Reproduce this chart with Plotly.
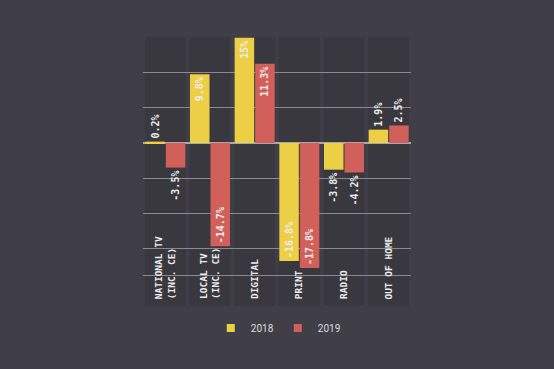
import plotly.graph_objects as go

categories = ["National TV (inc. CE)", "Local TV (inc. CE)", "Digital", "Print", "Radio", "Out of Home"]
category_labels = ["NATIONAL TV<br>(INC. CE)", "LOCAL TV<br>(INC. CE)", "DIGITAL", "PRINT", "RADIO", "OUT OF HOME"]
values_2018 = [0.2, 9.8, 15.0, -16.8, -3.8, 1.9]
values_2019 = [-3.5, -14.7, 11.3, -17.8, -4.2, 2.5]
labels_2018 = ["0.2%", "9.8%", "15%", "-16.8%", "-3.8%", "1.9%"]
labels_2019 = ["-3.5%", "-14.7%", "11.3%", "-17.8%", "-4.2%", "2.5%"]
pos_2018 = ["outside", "inside", "inside", "inside", "outside", "outside"]
pos_2019 = ["outside", "inside", "inside", "inside", "outside", "outside"]

BG = "#403f47"
BAND = "#39383f"
YELLOW = "#eccf45"
RED = "#d2605a"
TXT = "#ececec"
MONO = "DejaVu Sans Mono"

fig = go.Figure()
for name, vals, labs, pos, col in [("2018", values_2018, labels_2018, pos_2018, YELLOW),
                                   ("2019", values_2019, labels_2019, pos_2019, RED)]:
    fig.add_trace(go.Bar(
        x=categories, y=vals, name=name, marker=dict(color=col, line=dict(width=0)),
        text=labs, textposition=pos, textangle=-90, insidetextanchor="end",
        textfont=dict(family=MONO, size=10, color=TXT, weight="bold"),
        constraintext="none", cliponaxis=False, showlegend=False,
    ))
    fig.add_trace(go.Scatter(
        x=[None], y=[None], mode="markers", name=name,
        marker=dict(symbol="square", size=8, color=col),
    ))

for i, lab in enumerate(category_labels):
    fig.add_shape(type="rect", xref="x", yref="paper", x0=i - 0.46, x1=i + 0.46,
                  y0=-0.128, y1=1.0, fillcolor=BAND, line=dict(width=0), layer="below")
    fig.add_annotation(x=categories[i], y=-0.111, xref="x", yref="paper", text=lab,
                       textangle=-90, showarrow=False, xanchor="center", yanchor="bottom",
                       align="left",
                       font=dict(family=MONO, size=9.5, color=TXT, weight="bold"))

fig.update_layout(
    width=554, height=369,
    margin=dict(l=143, r=143, t=37, b=94, pad=0),
    paper_bgcolor=BG, plot_bgcolor=BG,
    barmode="group", bargap=0.08, bargroupgap=0.05,
    showlegend=True,
    legend=dict(orientation="h", x=0.253, y=-0.223, xanchor="left", yanchor="middle",
                font=dict(family="Roboto", size=10, color="#dddddd"),
                entrywidth=22, bgcolor="rgba(0,0,0,0)"),
    xaxis=dict(showticklabels=False, showgrid=False, zeroline=False,
               showline=True, linecolor="#8a8a90", linewidth=1, ticks=""),
    yaxis=dict(range=[-18.8, 15.1], dtick=5, showticklabels=False, showgrid=True,
               gridcolor="#8a8a90", gridwidth=1, zeroline=True, zerolinecolor="#a8a8ac",
               zerolinewidth=1.5, ticks=""),
)

fig.write_html("out.html", config={"displayModeBar": False},
               post_script="document.body.style.margin='0';document.body.style.background='" + BG + "';")
